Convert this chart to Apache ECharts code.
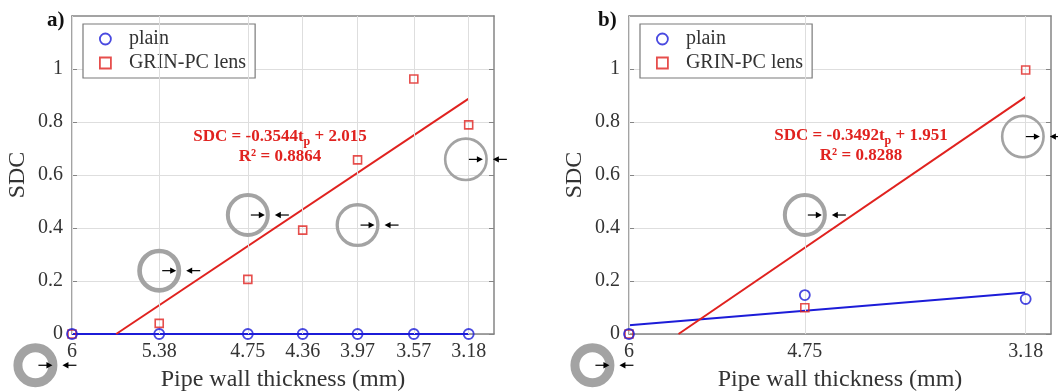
<!DOCTYPE html>
<html>
<head>
<meta charset="utf-8">
<script src="https://cdn.jsdelivr.net/npm/echarts@6/dist/echarts.min.js"></script>
<style>
html,body{margin:0;padding:0;background:#fff;}
#chart{width:1058px;height:392px;}
</style>
</head>
<body>
<div id="chart"></div>
<script>
// ---------- data ----------
const yTicks = [0, 0.2, 0.4, 0.6, 0.8, 1];
const xTicksA = [6, 5.38, 4.75, 4.36, 3.97, 3.57, 3.18];
const plainA = [0, 0, 0, 0, 0, 0, 0];
const grinA = [0, 0.04, 0.206, 0.392, 0.657, 0.962, 0.789];
const fitGrinA = [[5.686, 0], [3.18, 0.888]];
const fitPlainA = [[6, 0], [3.18, 0]];
const eqA = ['-0.3544', '2.015', '0.8864'];

const xTicksB = [6, 4.75, 3.18];
const plainB = [0, 0.147, 0.132];
const grinB = [0, 0.099, 0.996];
const fitGrinB = [[5.648, 0], [3.18, 0.895]];
const fitPlainB = [[6, 0.033], [3.18, 0.157]];
const eqB = ['-0.3492', '1.951', '0.8288'];

// pipe cross-section icons: [thickness position, SDC position]
const ringsA = [[6.26, -0.118], [5.38, 0.239], [4.75, 0.449], [3.97, 0.411], [3.2, 0.659]];
const ringsB = [[6.26, -0.118], [4.75, 0.449], [3.2, 0.745]];

// ---------- styles ----------
const FONT = 'Liberation Serif';
const BLUE = '#1c1cd8';
const RED = '#e0221f';
const AXIS = '#858585';
const GRID = '#dedede';
const ringWallA = [9, 4.7, 4, 3.3, 2.6];
const ringWallB = [9, 4, 2.6];

function makeRingRender(walls) {
  return function (params, api) {
    const c = api.coord([api.value(0), api.value(1)]);
    const cx = c[0], cy = c[1];
    const w = walls[params.dataIndex];
    const R = 22;
    const k = '#000';
    return {
      type: 'group',
      children: [
        {type: 'circle', shape: {cx: cx, cy: cy, r: R - w / 2},
         style: {fill: 'none', stroke: '#a3a3a3', lineWidth: w}},
        {type: 'line', shape: {x1: cx + 3, y1: cy, x2: cx + 12, y2: cy},
         style: {stroke: k, lineWidth: 1.2}},
        {type: 'polygon', shape: {points: [[cx + 11, cy - 3.2], [cx + 17, cy], [cx + 11, cy + 3.2]]},
         style: {fill: k}},
        {type: 'line', shape: {x1: cx + R + 19, y1: cy, x2: cx + R + 10, y2: cy},
         style: {stroke: k, lineWidth: 1.2}},
        {type: 'polygon', shape: {points: [[cx + R + 11, cy - 3.2], [cx + R + 5, cy], [cx + R + 11, cy + 3.2]]},
         style: {fill: k}}
      ]
    };
  };
}

const grids = [
  {left: 72, top: 16, width: 422, height: 318, outerBoundsMode: 'none', containLabel: false},
  {left: 629, top: 16, width: 422, height: 318, outerBoundsMode: 'none', containLabel: false}
];

function xAxes(gridIndex, ticks) {
  return [
    {
      type: 'value', gridIndex: gridIndex, position: 'bottom', inverse: true, min: 3, max: 6,
      name: 'Pipe wall thickness (mm)', nameLocation: 'middle', nameGap: 34,
      nameTextStyle: {fontFamily: FONT, fontSize: 24, color: '#333'},
      axisLine: {show: true, onZero: false, lineStyle: {color: AXIS, width: 1.5}},
      axisTick: {show: true, inside: true, length: 5, customValues: ticks, lineStyle: {color: AXIS}},
      axisLabel: {show: true, customValues: ticks, margin: 8, fontFamily: FONT, fontSize: 20, color: '#333'},
      splitLine: {show: false}, z: 3
    },
    {
      type: 'value', gridIndex: gridIndex, position: 'top', inverse: true, min: 3, max: 6,
      axisLine: {show: true, onZero: false, lineStyle: {color: AXIS, width: 1.5}},
      axisTick: {show: true, inside: true, length: 5, customValues: ticks, lineStyle: {color: AXIS}},
      axisLabel: {show: false}, splitLine: {show: false}, z: 3
    }
  ];
}

function yAxes(gridIndex) {
  return [
    {
      type: 'value', gridIndex: gridIndex, position: 'left', min: 0, max: 1.2, interval: 0.2,
      name: 'SDC', nameLocation: 'middle', nameGap: 42,
      nameTextStyle: {fontFamily: FONT, fontSize: 24, color: '#333'},
      axisLine: {show: true, onZero: false, lineStyle: {color: AXIS, width: 1.5}},
      axisTick: {show: true, inside: true, length: 5, customValues: yTicks, lineStyle: {color: AXIS}},
      axisLabel: {customValues: yTicks, margin: 9, fontFamily: FONT, fontSize: 20, color: '#333',
                  formatter: v => String(+v.toFixed(1))},
      splitLine: {show: true, lineStyle: {color: GRID, width: 1}}, z: 3
    },
    {
      type: 'value', gridIndex: gridIndex, position: 'right', min: 0, max: 1.2, interval: 0.2,
      axisLine: {show: true, onZero: false, lineStyle: {color: AXIS, width: 1.5}},
      axisTick: {show: true, inside: true, length: 5, customValues: yTicks, lineStyle: {color: AXIS}},
      axisLabel: {show: false}, splitLine: {show: false}, z: 3
    }
  ];
}

function zip(xs, ys) { return xs.map((x, i) => [x, ys[i]]); }

function panelSeries(xi, yi, ticks, plain, grin, fitPlain, fitGrin, rings, walls) {
  return [
    { // vertical grid lines at the tick values
      type: 'line', xAxisIndex: xi, yAxisIndex: yi, data: [[ticks[0], 0]], z: 1, silent: true,
      showSymbol: false, lineStyle: {width: 0}, animation: false,
      markLine: {silent: true, symbol: 'none', animation: false, label: {show: false},
        lineStyle: {color: GRID, width: 1, type: 'solid'},
        data: ticks.map(v => ({xAxis: v}))}
    },
    {type: 'line', name: 'plain fit', xAxisIndex: xi, yAxisIndex: yi, data: fitPlain,
     showSymbol: false, lineStyle: {color: BLUE, width: 2}, z: 4, animation: false},
    {type: 'line', name: 'GRIN fit', xAxisIndex: xi, yAxisIndex: yi, data: fitGrin,
     showSymbol: false, lineStyle: {color: RED, width: 2}, z: 4, animation: false},
    {type: 'scatter', name: 'GRIN-PC lens', xAxisIndex: xi, yAxisIndex: yi, data: zip(ticks, grin),
     symbol: 'rect', symbolSize: 8,
     itemStyle: {color: 'rgba(255,255,255,0)', borderColor: RED, borderWidth: 1.6}, z: 5, animation: false},
    {type: 'scatter', name: 'plain', xAxisIndex: xi, yAxisIndex: yi, data: zip(ticks, plain),
     symbol: 'circle', symbolSize: 10,
     itemStyle: {color: 'rgba(255,255,255,0)', borderColor: BLUE, borderWidth: 1.8}, z: 6, animation: false},
    {type: 'custom', xAxisIndex: xi, yAxisIndex: yi, data: rings, clip: false, z: 7,
     renderItem: makeRingRender(walls), animation: false, silent: true}
  ];
}

function legend(left) {
  return {
    left: left, top: 24, orient: 'vertical',
    backgroundColor: '#fff', borderColor: '#7a7a7a', borderWidth: 1.2,
    padding: [5, 9, 5, 16], itemGap: 4, itemWidth: 11, itemHeight: 11,
    itemStyle: {borderWidth: 1.8},
    textStyle: {fontFamily: FONT, fontSize: 20, color: '#333', padding: [0, 0, 0, 13]},
    data: [{name: 'plain', icon: 'circle'}, {name: 'GRIN-PC lens', icon: 'rect'}]
  };
}

function equation(cx, y1, eq) {
  return [
    {type: 'text', x: cx, y: y1, z: 20,
     style: {text: '{b|SDC = ' + eq[0] + 't}{s|p}{b| + ' + eq[1] + '}',
       align: 'center', verticalAlign: 'middle', fill: RED,
       fontFamily: FONT, fontWeight: 'bold', fontSize: 17,
       rich: {b: {fontFamily: FONT, fontWeight: 'bold', fontSize: 17, fill: RED},
              s: {fontFamily: FONT, fontWeight: 'bold', fontSize: 12, fill: RED, padding: [9, 0, 0, 0]}}}},
    {type: 'text', x: cx, y: y1 + 20, z: 20,
     style: {text: 'R\u00b2 = ' + eq[2], align: 'center', verticalAlign: 'middle',
       fontFamily: FONT, fontWeight: 'bold', fontSize: 17, fill: RED}}
  ];
}

const option = {
  backgroundColor: '#fff',
  animation: false,
  grid: grids,
  xAxis: [].concat(xAxes(0, xTicksA), xAxes(1, xTicksB)),
  yAxis: [].concat(yAxes(0), yAxes(1)),
  legend: [legend(83), legend(640)],
  series: [].concat(
    panelSeries(0, 0, xTicksA, plainA, grinA, fitPlainA, fitGrinA, ringsA, ringWallA),
    panelSeries(2, 2, xTicksB, plainB, grinB, fitPlainB, fitGrinB, ringsB, ringWallB)
  ),
  graphic: [].concat(
    [{type: 'text', x: 47, y: 21, style: {text: 'a)', fontFamily: FONT, fontWeight: 'bold', fontSize: 21, fill: '#111', verticalAlign: 'middle'}},
     {type: 'text', x: 598, y: 21, style: {text: 'b)', fontFamily: FONT, fontWeight: 'bold', fontSize: 21, fill: '#111', verticalAlign: 'middle'}}],
    equation(280, 137, eqA),
    equation(861, 136, eqB)
  )
};

const chart = echarts.init(document.getElementById('chart'), null, {renderer: 'canvas'});
chart.setOption(option);
</script>
</body>
</html>
